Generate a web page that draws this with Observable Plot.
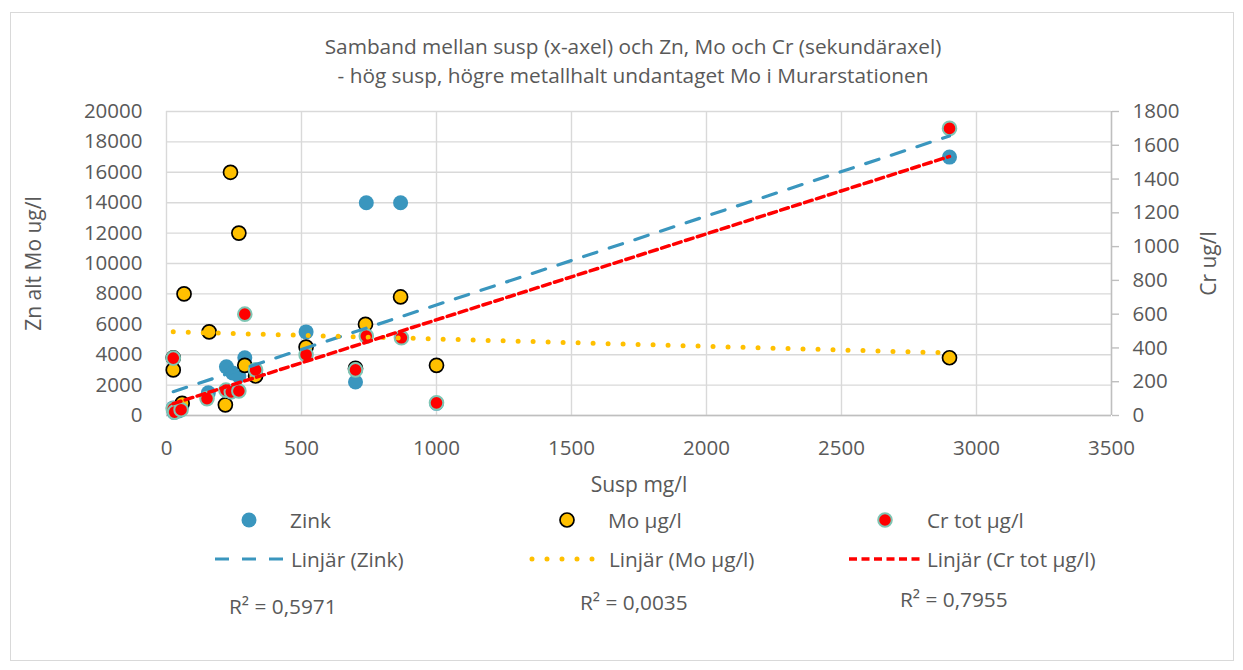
<!DOCTYPE html>
<html><head><meta charset="utf-8">
<script src="https://cdn.jsdelivr.net/npm/d3@7"></script>
<script src="https://cdn.jsdelivr.net/npm/@observablehq/plot@0.6"></script>
<style>
body{margin:0;background:#fff;font-family:"Open Sans",sans-serif;color:#595959;}
#wrap{position:relative;width:1243px;height:670px;overflow:hidden;}
#frame{position:absolute;left:10px;top:12px;width:1222px;height:647px;border:1px solid #d9d9d9;pointer-events:none;}
#title{position:relative;height:95px;}
#title div{position:absolute;left:0;width:1266px;text-align:center;font-size:20.8px;white-space:nowrap;line-height:24px;}
#legend{position:relative;height:170px;}
#legend .t{position:absolute;font-size:20.8px;white-space:nowrap;line-height:24px;}
#legend svg{position:absolute;overflow:visible;}
</style></head>
<body>
<div id="wrap">
<div id="frame"></div>
<div id="title">
  <div style="top:34px">Samband mellan susp (x-axel) och Zn, Mo och Cr (sekundäraxel)</div>
  <div style="top:63px">- hög susp, högre metallhalt undantaget Mo i Murarstationen</div>
</div>
<div id="chart"></div>
<div id="legend"></div>
</div>
<script>
// Zink (primary axis, ug/l) vs Susp (mg/l)
const zincSusp = [25, 28, 45, 58, 155, 222, 245, 268, 290, 330, 517, 700, 740, 867, 1000, 2900];
const zincVal  = [500, 200, 300, 700, 1500, 3200, 2800, 2600, 3800, 2700, 5500, 2200, 14000, 14000, 800, 17000];
// Mo µg/l (primary axis)
const moSusp = [25, 25, 65, 58, 158, 218, 237, 268, 290, 330, 517, 700, 737, 867, 1000, 2900];
const moVal  = [3800, 3000, 8000, 800, 5500, 700, 16000, 12000, 3300, 2600, 4500, 3100, 6000, 7800, 3300, 3800];
// Cr tot µg/l (secondary axis)
const crSusp = [25, 25, 30, 54, 150, 220, 240, 268, 290, 330, 517, 700, 740, 870, 1000, 2900];
const crVal  = [340, 40, 20, 34, 100, 150, 140, 145, 600, 270, 360, 270, 470, 460, 75, 1700];

const xTicks = [0, 500, 1000, 1500, 2000, 2500, 3000, 3500];
const yTicks = [0, 2000, 4000, 6000, 8000, 10000, 12000, 14000, 16000, 18000, 20000];
const crTicks = [0, 200, 400, 600, 800, 1000, 1200, 1400, 1600, 1800];
const r2Labels = ["R² = 0,5971", "R² = 0,0035", "R² = 0,7955"];
const seriesNames = ["Zink", "Mo µg/l", "Cr tot µg/l"];
const trendNames = ["Linjär (Zink)", "Linjär (Mo µg/l)", "Linjär (Cr tot µg/l)"];

const K = 20000 / 1800;
const zn = zincSusp.map((x, i) => ({x, y: zincVal[i]}));
const mo = moSusp.map((x, i) => ({x, y: moVal[i]}));
const cr = crSusp.map((x, i) => ({x, y: crVal[i] * K}));

const cZn = "#3A96BE", cMo = "#FFC000", cCr = "#FF0000", cCrEdge = "#7FC6B4";
const FS = 20.5;

const chart = Plot.plot({
  width: 1243, height: 405,
  marginLeft: 166, marginRight: 132, marginTop: 16, marginBottom: 85,
  style: {fontFamily: "Open Sans", fontSize: FS + "px", color: "#595959", background: "transparent"},
  x: {domain: [0, 3500]},
  y: {domain: [0, 20000]},
  marks: [
    Plot.gridX(xTicks, {stroke: "#d9d9d9", strokeOpacity: 1, strokeWidth: 1.4}),
    Plot.gridY(yTicks, {stroke: "#d9d9d9", strokeOpacity: 1, strokeWidth: 1.4}),
    Plot.ruleY([0], {stroke: "#bfbfbf", strokeWidth: 1.4}),
    Plot.ruleX([3500], {stroke: "#bfbfbf", strokeWidth: 1.4}),
    Plot.axisX(xTicks, {tickSize: 0, tickPadding: 25, fontSize: FS, tickFormat: d => String(d), label: "Susp mg/l", labelAnchor: "center", labelOffset: 76, labelArrow: "none"}),
    Plot.axisY(yTicks, {anchor: "left", tickSize: 0, tickPadding: 24, fontSize: FS, tickFormat: d => String(d), label: "Zn alt Mo ug/l", labelAnchor: "center", labelOffset: 140, labelArrow: "none"}),
    Plot.axisY(crTicks.map(v => v * K), {anchor: "right", tickSize: 7, tickPadding: 14, stroke: "#bfbfbf", strokeWidth: 1.4, fontSize: FS, tickFormat: d => String(Math.round(d / K)), label: "Cr ug/l", labelAnchor: "center", labelOffset: 104, labelArrow: "none"}),
    Plot.dot(zn, {x: "x", y: "y", r: 7.5, fill: cZn}),
    Plot.dot(mo, {x: "x", y: "y", r: 7, fill: cMo, stroke: "#000", strokeWidth: 1.7}),
    Plot.dot(cr, {x: "x", y: "y", r: 6.8, fill: cCr, stroke: cCrEdge, strokeWidth: 2}),
    Plot.linearRegressionY(zn, {x: "x", y: "y", ci: 0, stroke: cZn, strokeWidth: 3.2, strokeDasharray: "14 13"}),
    Plot.linearRegressionY(mo, {x: "x", y: "y", ci: 0, stroke: cMo, strokeWidth: 5, strokeDasharray: "0 15", strokeLinecap: "round"}),
    Plot.linearRegressionY(cr, {x: "x", y: "y", ci: 0, stroke: cCr, strokeWidth: 3.5, strokeDasharray: "8 4.5"})
  ]
});
document.getElementById("chart").appendChild(chart);
chart.style.display = "block";
chart.querySelectorAll("[aria-label$='axis label'] text, [aria-label='y-axis label'] text, [aria-label='x-axis label'] text").forEach(t => t.setAttribute("font-size", "21"));

// Legend
const lg = document.getElementById("legend");
const top0 = 500;
function addText(txt, x, yc) {
  const d = document.createElement("div");
  d.className = "t"; d.textContent = txt;
  d.style.left = x + "px"; d.style.top = (yc - top0 - 12) + "px";
  lg.appendChild(d);
}
function addSvg(inner, x, y, w, h) {
  const s = document.createElementNS("http://www.w3.org/2000/svg", "svg");
  s.setAttribute("width", w); s.setAttribute("height", h);
  s.style.left = x + "px"; s.style.top = (y - top0) + "px";
  s.innerHTML = inner;
  lg.appendChild(s);
}
const mk = [
  `<circle cx="10" cy="10" r="7.5" fill="${cZn}"/>`,
  `<circle cx="10" cy="10" r="7" fill="${cMo}" stroke="#000" stroke-width="1.7"/>`,
  `<circle cx="10" cy="10" r="6.8" fill="${cCr}" stroke="${cCrEdge}" stroke-width="2"/>`
];
const mkX = [249, 567, 885], txX = [290, 608, 927];
mk.forEach((m, i) => { addSvg(m, mkX[i] - 10, 510, 20, 20); addText(seriesNames[i], txX[i], 520); });
const ln = [
  `<line x1="2" y1="10" x2="72" y2="10" stroke="${cZn}" stroke-width="3.2" stroke-dasharray="14 13"/>`,
  `<line x1="3" y1="10" x2="64" y2="10" stroke="${cMo}" stroke-width="5" stroke-dasharray="0 15" stroke-linecap="round"/>`,
  `<line x1="0" y1="10" x2="72" y2="10" stroke="${cCr}" stroke-width="3.5" stroke-dasharray="8 4.5"/>`
];
const lnX = [213, 529, 849], lnTx = [291, 609, 927];
ln.forEach((l, i) => { addSvg(l, lnX[i], 549, 74, 20); addText(trendNames[i], lnTx[i], 559); });
addText(r2Labels[0], 229, 606);
addText(r2Labels[1], 580, 602);
addText(r2Labels[2], 900, 599);
</script>
</body></html>
